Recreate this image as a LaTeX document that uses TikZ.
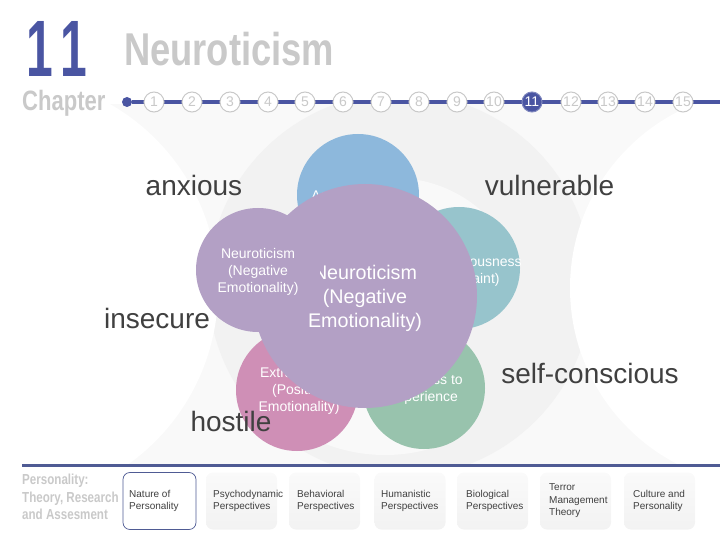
\documentclass[tikz,border=0pt]{standalone}
\usepackage{fontspec}
\setmainfont{Liberation Sans}
\definecolor{barblue}{HTML}{4A55A2}
\definecolor{ruleblue}{HTML}{4F5B94}
\definecolor{headgray}{HTML}{C9C9C9}
\definecolor{darktext}{HTML}{404040}
\definecolor{bgone}{HTML}{F9F9F9}
\definecolor{bgtwo}{HTML}{F2F2F2}
\definecolor{petalblue}{HTML}{8DB8DC}
\definecolor{petalteal}{HTML}{97C4CC}
\definecolor{petalgreen}{HTML}{98C3AD}
\definecolor{petalpink}{HTML}{CF8FB6}
\definecolor{petalpurple}{HTML}{B3A0C5}
\newcommand{\pxfont}[2]{\fontsize{#1}{#2}\selectfont}
\tikzset{
  petal/.style={circle, inner sep=0pt, minimum size=122pt},
  petaltext/.style={text=white, align=center, font=\pxfont{14}{17}},
  trait/.style={text=darktext, font=\pxfont{28}{32}},
  chapnum/.style={circle, draw=headgray, fill=white, line width=1pt, inner sep=0pt, minimum size=20pt, text=headgray, font=\pxfont{14}{14}},
  chapnow/.style={chapnum, draw=barblue!70, fill=barblue, text=white},
  tab/.style={rounded corners=7pt, top color=black!2, bottom color=black!5, inner sep=0pt, minimum height=57pt, minimum width=71pt},
  tabnow/.style={rounded corners=7pt, draw=ruleblue, line width=.7pt, fill=white, inner sep=0pt, minimum height=57pt, minimum width=73pt},
  tabtext/.style={anchor=west, inner sep=0pt, align=left, text=darktext, font=\pxfont{10}{12.5}},
}
\begin{document}
\begin{tikzpicture}[x=1pt, y=-1pt]
\useasboundingbox (0,0) rectangle (720,540);
% background
\begin{scope}
\clip (0,104) rectangle (720,464);
\fill[bgone] (0,104) rectangle (720,464);
\fill[bgtwo] (400,285) circle (192);
\begin{scope}
\clip (358,104) rectangle (513,240);
\fill[bgone] (395,308) circle (130);
\end{scope}
\begin{scope}
\clip (320,405) rectangle (450,464);
\fill[bgone] (385,290) circle (165);
\end{scope}
\fill[white] (4,290) circle (214);
\fill[white] (768,288) circle (198);
\end{scope}
% header
\node[text=barblue, font=\bfseries\pxfont{80}{80}, inner sep=0pt] (bignum) at (57,49) {\scalebox{.6}[1]{1}\hspace{8pt}\scalebox{.6}[1]{1}};
\node[text=headgray, font=\bfseries\pxfont{46}{46}, anchor=west, inner sep=0pt] (title) at (124,49) {\scalebox{.79}[1]{Neuroticism}};
\node[text=headgray, font=\bfseries\pxfont{28}{28}, anchor=west, inner sep=0pt] (chapter) at (22,103) {\scalebox{.787}[1]{Chapter}};
\node[circle, fill=barblue, inner sep=0pt, minimum size=10pt] (startdot) at (127,102) {};
\coordinate (barend) at (720,102);
\draw[barblue, line width=3.5pt] (startdot) -- (barend);
\foreach \n/\x in {1/154,2/192,3/230,4/268,5/305,6/343,7/381,8/419,9/457,10/494,12/571,13/608,14/645,15/683}
  \node[chapnum] (ch\n) at (\x,102) {\n};
\node[chapnow] (ch11) at (532,102) {11};
% petals
\node[petal, fill=petalblue] (agree) at (358,195) {};
\node[petaltext] (agreetext) at (358,197) {Agreeableness};
\node[petal, fill=petalteal] (consc) at (459,268) {};
\node[petaltext] (consctext) at (463,271) {Conscientiousness\\(Constraint)};
\node[petal, fill=petalgreen] (open) at (424,388) {};
\node[petaltext] (opentext) at (423,390) {Openness to\\Experience};
\node[petal, fill=petalpink] (extra) at (297,390) {};
\node[petaltext] (extratext) at (299,391) {Extraversion\\(Positive\\Emotionality)};
\node[circle, inner sep=0pt, minimum size=224pt, fill=petalpurple] (neurobig) at (365,296) {};
\node[text=white, align=center, font=\pxfont{19.7}{24}] (neurobigtext) at (365,298) {Neuroticism\\(Negative\\Emotionality)};
\node[petal, fill=petalpurple, minimum size=124pt] (neuro) at (258,270) {};
\node[petaltext] (neurotext) at (258,272) {Neuroticism\\(Negative\\Emotionality)};
% traits
\node[trait] (anxious) at (194,185) {anxious};
\node[trait] (vulnerable) at (549.5,185) {vulnerable};
\node[trait] (insecure) at (157,318) {insecure};
\node[trait] (hostile) at (231,421) {hostile};
\node[trait] (selfcon) at (590,373) {self-conscious};
% footer
\draw[ruleblue, line width=3pt] (22,465) -- (720,465);
\node[text=headgray, font=\bfseries\pxfont{14.5}{17.5}, anchor=west, inner sep=0pt, align=left] (book) at (22,497) {\scalebox{.8}[1]{Personality:}\\\scalebox{.8}[1]{Theory, Research}\\\scalebox{.8}[1]{and Assesment}};
\node[tabnow] (tab1) at (159.5,501) {};
\node[tab] (tab2) at (241.5,501) {};
\node[tab] (tab3) at (324.5,501) {};
\node[tab] (tab4) at (410,501) {};
\node[tab] (tab5) at (492.5,501) {};
\node[tab] (tab6) at (575.5,501) {};
\node[tab] (tab7) at (659.5,501) {};
\node[tabtext] (tabtext1) at (129,501) {Nature of\\Personality};
\node[tabtext] (tabtext2) at (213,501) {Psychodynamic\\Perspectives};
\node[tabtext] (tabtext3) at (297,501) {Behavioral\\Perspectives};
\node[tabtext] (tabtext4) at (381,501) {Humanistic\\Perspectives};
\node[tabtext] (tabtext5) at (466,501) {Biological\\Perspectives};
\node[tabtext] (tabtext6) at (549,501) {Terror\\Management\\Theory};
\node[tabtext] (tabtext7) at (633,501) {Culture and\\Personality};
\end{tikzpicture}
\end{document}
